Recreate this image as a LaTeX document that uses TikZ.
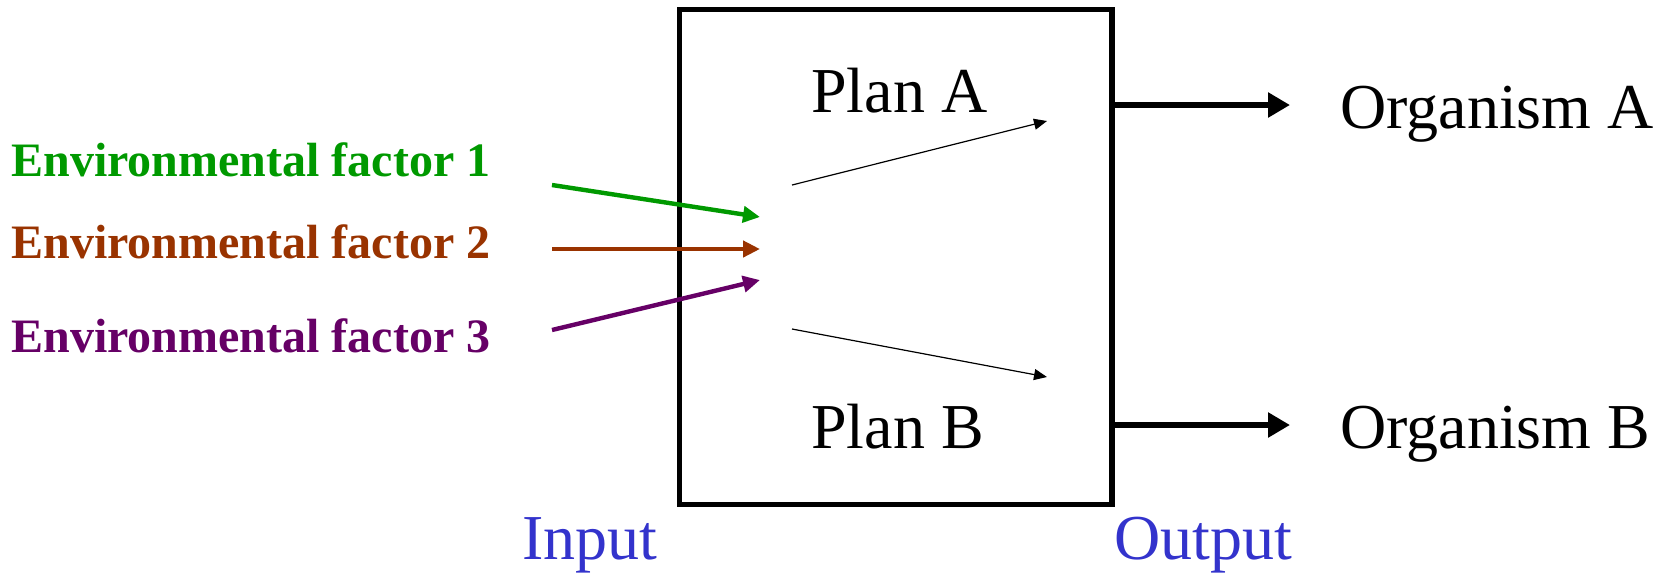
\documentclass[tikz,border=0pt]{standalone}
\usepackage{fontspec}
\setmainfont{Liberation Serif}
\usetikzlibrary{arrows.meta}
\definecolor{envgreen}{RGB}{0,153,0}
\definecolor{envbrown}{RGB}{153,51,0}
\definecolor{envpurple}{RGB}{102,0,102}
\definecolor{ioblue}{RGB}{51,51,204}
\tikzset{
  big/.style={font=\fontsize{32}{36}\selectfont, inner sep=0pt, anchor=base west},
  envlabel/.style={font=\fontsize{24}{28}\selectfont\bfseries, inner sep=0pt, anchor=base west},
  envarrow/.style={line width=2.2pt, -{Triangle[length=8.5pt,width=8pt]}},
  planarrow/.style={line width=0.6pt, -{Triangle[length=6.5pt,width=5.5pt]}},
  outarrow/.style={line width=3.2pt, -{Triangle[length=11pt,width=12pt]}},
}
\begin{document}
\begin{tikzpicture}[x=0.5pt,y=-0.5pt]
\useasboundingbox (0,0) rectangle (1670,575);
% box
\draw[line width=2.6pt] (679.5,9.2) rectangle (1112,504.5);
\coordinate (boxA) at (1112,105);
\coordinate (boxB) at (1112,425);
% texts
\node[big] (planA) at (811,112) {Plan A};
\node[big] (planB) at (811,448) {Plan B};
\node[big] (orgA) at (1340,128) {Organism A};
\node[big] (orgB) at (1340,448) {Organism B};
\node[big, text=ioblue] (input) at (522,559) {Input};
\node[big, text=ioblue] (output) at (1114,559) {Output};
\node[envlabel, text=envgreen] (env1) at (11,176) {Environmental factor 1};
\node[envlabel, text=envbrown] (env2) at (11,258) {Environmental factor 2};
\node[envlabel, text=envpurple] (env3) at (11,352) {Environmental factor 3};
% coordinates
\coordinate (e1s) at (552,185);
\coordinate (e1e) at (760,217);
\coordinate (e2s) at (552,249);
\coordinate (e2e) at (760,249);
\coordinate (e3s) at (552,330);
\coordinate (e3e) at (760,280);
\coordinate (pAs) at (792,185);
\coordinate (pAe) at (1047,121);
\coordinate (pBs) at (792,329);
\coordinate (pBe) at (1047,377);
\coordinate (oAe) at (1290,105);
\coordinate (oBe) at (1290,425);
% arrows
\draw[envarrow, envgreen] (e1s) -- (e1e);
\draw[envarrow, envbrown] (e2s) -- (e2e);
\draw[envarrow, envpurple] (e3s) -- (e3e);
\draw[planarrow] (pAs) -- (pAe);
\draw[planarrow] (pBs) -- (pBe);
\draw[outarrow] (boxA) -- (oAe);
\draw[outarrow] (boxB) -- (oBe);
\end{tikzpicture}
\end{document}
